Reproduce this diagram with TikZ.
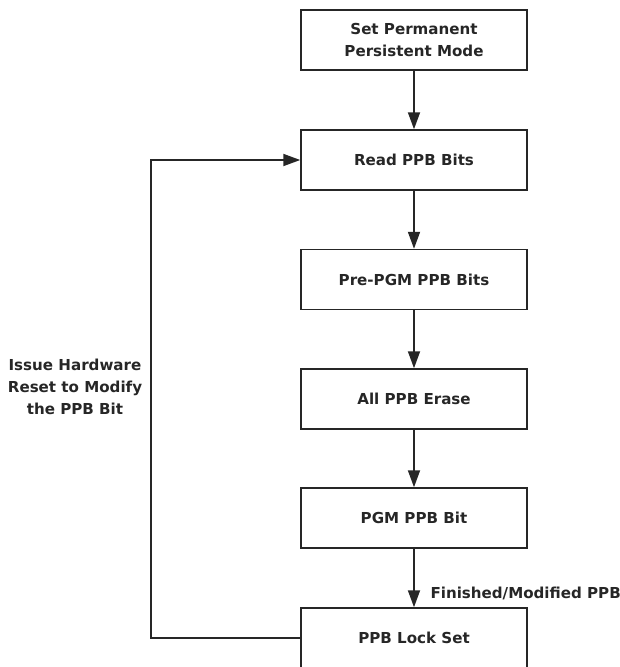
\documentclass[tikz,border=0pt]{standalone}
\usepackage{fontspec}
\setmainfont{DejaVu Sans}
\usetikzlibrary{arrows.meta}
\begin{document}
\begin{tikzpicture}[x=1pt,y=-1pt,
  stepbox/.style={draw=black!85,line width=1.5pt,minimum width=226pt,minimum height=60pt,inner sep=0pt,
    font=\fontsize{15.1}{22}\selectfont\bfseries,align=center,text=black!85},
  conn/.style={draw=black!85,line width=1.8pt,-{Triangle[length=17pt,width=12pt]}},
  lbl/.style={font=\fontsize{15.1}{22}\selectfont\bfseries,text=black!85,align=center}]
\clip (0,0) rectangle (620,667);
\useasboundingbox (0,0) rectangle (620,667);
\node[stepbox] (b1) at (414,40) {Set Permanent\\Persistent Mode};
\node[stepbox] (b2) at (414,160) {Read PPB Bits};
\node[stepbox] (b3) at (414,279.5) {Pre-PGM PPB Bits};
\node[stepbox] (b4) at (414,399) {All PPB Erase};
\node[stepbox] (b5) at (414,518) {PGM PPB Bit};
\node[stepbox] (b6) at (414,638) {PPB Lock Set};
\draw[conn] (b1) -- (b2);
\draw[conn] (b2) -- (b3);
\draw[conn] (b3) -- (b4);
\draw[conn] (b4) -- (b5);
\draw[conn] (b5) -- (b6);
\coordinate (c1) at (151,638);
\coordinate (c2) at (151,160);
\draw[conn] (b6.west) -- (c1) -- (c2) -- (b2.west);
\node[lbl] (l1) at (75,387) {Issue Hardware\\Reset to Modify\\the PPB Bit};
\node[lbl,anchor=west] (l2) at (427,593) {Finished/Modified PPB};
\end{tikzpicture}
\end{document}
